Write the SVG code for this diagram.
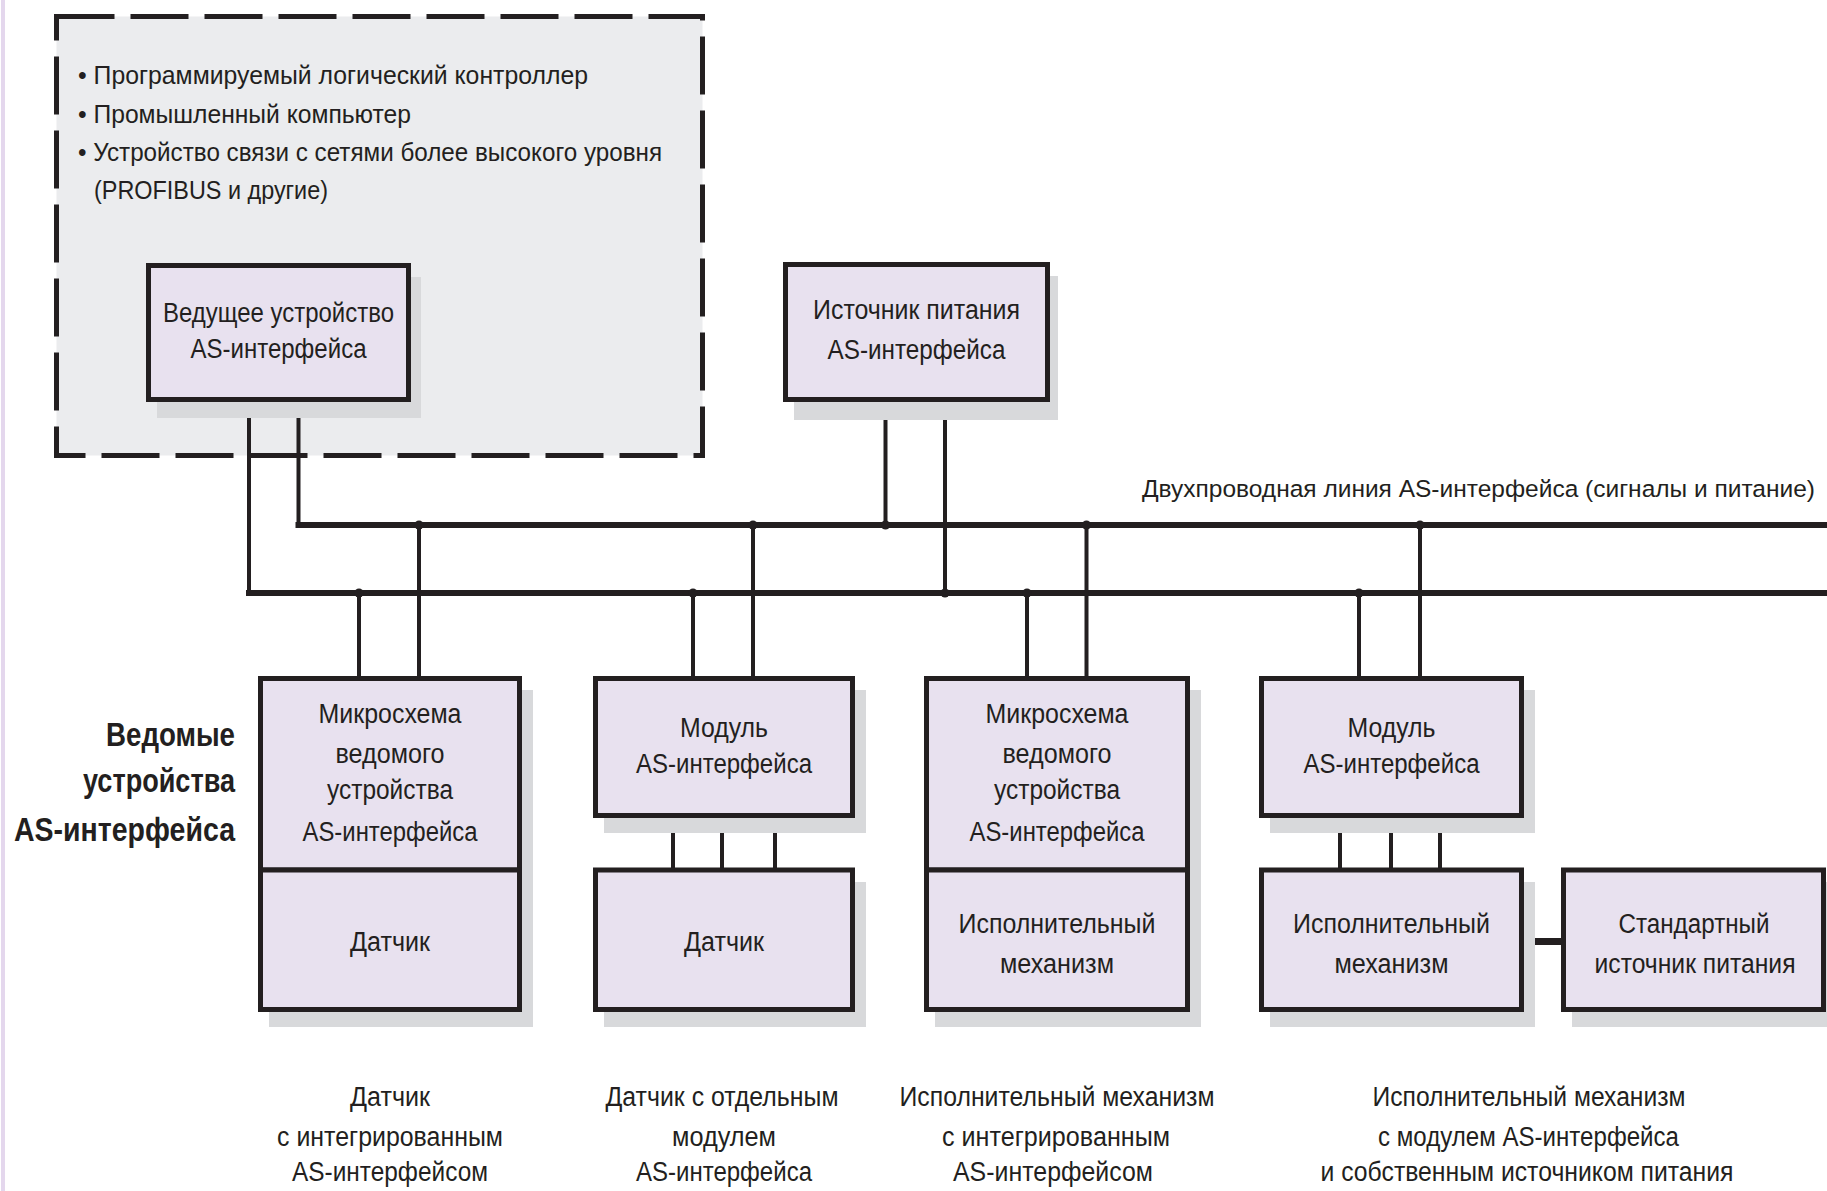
<svg xmlns="http://www.w3.org/2000/svg" width="1827" height="1191" viewBox="0 0 1827 1191">
<style>
text{font-family:"Liberation Sans","DejaVu Sans",sans-serif;fill:#231f20;font-size:27px;}
.c{text-anchor:middle;}
.s{font-size:26px;}
.lbl{font-size:24.5px;text-anchor:end;}
.b{font-weight:bold;font-size:33px;text-anchor:end;}
.box{fill:#e8e1ef;stroke:#231f20;stroke-width:5;}
.sh{fill:#d8d9db;}
.w{stroke:#231f20;stroke-width:4;fill:none;}
.bus{stroke:#231f20;stroke-width:6;fill:none;}
.dot{fill:#231f20;}
</style>
<rect x="0" y="0" width="1827" height="1191" fill="#ffffff"/>
<rect x="1" y="0" width="4" height="1191" fill="#e4d7ed"/>

<g id="host-area">
<rect x="56.5" y="16.5" width="646" height="439" fill="#ebecee" stroke="#231f20" stroke-width="5" stroke-dasharray="58 16"/>
<text class="s" x="78" y="84" textLength="510" lengthAdjust="spacingAndGlyphs">• Программируемый логический контроллер</text>
<text class="s" x="78" y="123" textLength="333" lengthAdjust="spacingAndGlyphs">• Промышленный компьютер</text>
<text class="s" x="78" y="161" textLength="584" lengthAdjust="spacingAndGlyphs">• Устройство связи с сетями более высокого уровня</text>
<text class="s" x="94" y="199" textLength="234" lengthAdjust="spacingAndGlyphs">(PROFIBUS и другие)</text>
</g>

<g id="connectors">
<line class="bus" x1="295.5" y1="525" x2="1827" y2="525"/>
<line class="bus" x1="246" y1="593" x2="1827" y2="593"/>
<polyline class="w" points="249,402 249,593"/>
<polyline class="w" points="298.5,402 298.5,525"/>
<line class="w" x1="885.5" y1="402" x2="885.5" y2="525"/>
<line class="w" x1="945" y1="402" x2="945" y2="593"/>
<line class="w" x1="359" y1="593" x2="359" y2="677"/>
<line class="w" x1="419" y1="525" x2="419" y2="677"/>
<line class="w" x1="693" y1="593" x2="693" y2="677"/>
<line class="w" x1="753" y1="525" x2="753" y2="677"/>
<line class="w" x1="1027" y1="593" x2="1027" y2="677"/>
<line class="w" x1="1086.5" y1="525" x2="1086.5" y2="677"/>
<line class="w" x1="1359" y1="593" x2="1359" y2="677"/>
<line class="w" x1="1420" y1="525" x2="1420" y2="677"/>
<line class="w" x1="673" y1="817" x2="673" y2="869"/>
<line class="w" x1="722" y1="817" x2="722" y2="869"/>
<line class="w" x1="775" y1="817" x2="775" y2="869"/>
<line class="w" x1="1340" y1="817" x2="1340" y2="869"/>
<line class="w" x1="1391" y1="817" x2="1391" y2="869"/>
<line class="w" x1="1440" y1="817" x2="1440" y2="869"/>
<line x1="1524" y1="941.5" x2="1562" y2="941.5" stroke="#231f20" stroke-width="7"/>
<circle class="dot" cx="359" cy="593" r="4.5"/>
<circle class="dot" cx="419" cy="525" r="4.5"/>
<circle class="dot" cx="693" cy="593" r="4.5"/>
<circle class="dot" cx="753" cy="525" r="4.5"/>
<circle class="dot" cx="885.5" cy="525" r="4.5"/>
<circle class="dot" cx="945" cy="593" r="4.5"/>
<circle class="dot" cx="1027" cy="593" r="4.5"/>
<circle class="dot" cx="1086.5" cy="525" r="4.5"/>
<circle class="dot" cx="1359" cy="593" r="4.5"/>
<circle class="dot" cx="1420" cy="525" r="4.5"/>
<text class="lbl" x="1815" y="497">Двухпроводная линия AS-интерфейса (сигналы и питание)</text>
</g>

<g id="master">
<rect class="sh" x="157" y="277" width="264" height="141"/>
<rect class="box" x="148.5" y="265.5" width="260" height="134"/>
<text class="c" x="278.5" y="322" textLength="231" lengthAdjust="spacingAndGlyphs">Ведущее устройство</text>
<text class="c" x="278.5" y="358" textLength="176" lengthAdjust="spacingAndGlyphs">AS-интерфейса</text>
</g>

<g id="power-supply">
<rect class="sh" x="794" y="276" width="264" height="144"/>
<rect class="box" x="785.5" y="264.5" width="262" height="135"/>
<text class="c" x="916.5" y="319" textLength="207" lengthAdjust="spacingAndGlyphs">Источник питания</text>
<text class="c" x="916.5" y="359" textLength="178" lengthAdjust="spacingAndGlyphs">AS-интерфейса</text>
</g>

<g id="slaves-label">
<text class="b" x="235" y="746" textLength="129" lengthAdjust="spacingAndGlyphs">Ведомые</text>
<text class="b" x="235" y="792" textLength="152" lengthAdjust="spacingAndGlyphs">устройства</text>
<text class="b" x="235" y="841" textLength="221" lengthAdjust="spacingAndGlyphs">AS-интерфейса</text>
</g>

<g id="slave1">
<rect class="sh" x="269" y="690" width="264" height="337"/>
<rect class="box" x="260.5" y="678.5" width="259" height="191.5"/>
<rect class="box" x="260.5" y="870" width="259" height="139.5"/>
<text class="c" x="390" y="723" textLength="143" lengthAdjust="spacingAndGlyphs">Микросхема</text>
<text class="c" x="390" y="763" textLength="109" lengthAdjust="spacingAndGlyphs">ведомого</text>
<text class="c" x="390" y="799" textLength="126" lengthAdjust="spacingAndGlyphs">устройства</text>
<text class="c" x="390" y="841" textLength="175" lengthAdjust="spacingAndGlyphs">AS-интерфейса</text>
<text class="c" x="390" y="951" textLength="80" lengthAdjust="spacingAndGlyphs">Датчик</text>
<text class="c" x="390" y="1106" textLength="80" lengthAdjust="spacingAndGlyphs">Датчик</text>
<text class="c" x="390" y="1146" textLength="226" lengthAdjust="spacingAndGlyphs">с интегрированным</text>
<text class="c" x="390" y="1181" textLength="196" lengthAdjust="spacingAndGlyphs">AS-интерфейсом</text>
</g>

<g id="slave2">
<rect class="sh" x="604" y="690" width="262" height="143"/>
<rect class="sh" x="604" y="882" width="262" height="145"/>
<rect class="box" x="595.5" y="678.5" width="257" height="137"/>
<rect class="box" x="595.5" y="870" width="257" height="139.5"/>
<text class="c" x="724" y="737" textLength="88" lengthAdjust="spacingAndGlyphs">Модуль</text>
<text class="c" x="724" y="773" textLength="176" lengthAdjust="spacingAndGlyphs">AS-интерфейса</text>
<text class="c" x="724" y="951" textLength="80" lengthAdjust="spacingAndGlyphs">Датчик</text>
<text class="c" x="722" y="1106" textLength="233" lengthAdjust="spacingAndGlyphs">Датчик с отдельным</text>
<text class="c" x="724" y="1146" textLength="104" lengthAdjust="spacingAndGlyphs">модулем</text>
<text class="c" x="724" y="1181" textLength="176" lengthAdjust="spacingAndGlyphs">AS-интерфейса</text>
</g>

<g id="slave3">
<rect class="sh" x="935" y="690" width="266" height="337"/>
<rect class="box" x="926.5" y="678.5" width="261" height="191.5"/>
<rect class="box" x="926.5" y="870" width="261" height="139.5"/>
<text class="c" x="1057" y="723" textLength="143" lengthAdjust="spacingAndGlyphs">Микросхема</text>
<text class="c" x="1057" y="763" textLength="109" lengthAdjust="spacingAndGlyphs">ведомого</text>
<text class="c" x="1057" y="799" textLength="126" lengthAdjust="spacingAndGlyphs">устройства</text>
<text class="c" x="1057" y="841" textLength="175" lengthAdjust="spacingAndGlyphs">AS-интерфейса</text>
<text class="c" x="1057" y="933" textLength="197" lengthAdjust="spacingAndGlyphs">Исполнительный</text>
<text class="c" x="1057" y="973" textLength="114" lengthAdjust="spacingAndGlyphs">механизм</text>
<text class="c" x="1057" y="1106" textLength="315" lengthAdjust="spacingAndGlyphs">Исполнительный механизм</text>
<text class="c" x="1056" y="1146" textLength="228" lengthAdjust="spacingAndGlyphs">с интегрированным</text>
<text class="c" x="1053" y="1181" textLength="200" lengthAdjust="spacingAndGlyphs">AS-интерфейсом</text>
</g>

<g id="slave4">
<rect class="sh" x="1270" y="690" width="265" height="143"/>
<rect class="sh" x="1270" y="882" width="265" height="145"/>
<rect class="box" x="1261.5" y="678.5" width="260" height="137"/>
<rect class="box" x="1261.5" y="870" width="260" height="139.5"/>
<text class="c" x="1391.5" y="737" textLength="88" lengthAdjust="spacingAndGlyphs">Модуль</text>
<text class="c" x="1391.5" y="773" textLength="176" lengthAdjust="spacingAndGlyphs">AS-интерфейса</text>
<text class="c" x="1391.5" y="933" textLength="197" lengthAdjust="spacingAndGlyphs">Исполнительный</text>
<text class="c" x="1391.5" y="973" textLength="114" lengthAdjust="spacingAndGlyphs">механизм</text>
<text class="c" x="1529" y="1106" textLength="313" lengthAdjust="spacingAndGlyphs">Исполнительный механизм</text>
<text class="c" x="1528.5" y="1146" textLength="301" lengthAdjust="spacingAndGlyphs">с модулем AS-интерфейса</text>
<text class="c" x="1527" y="1181" textLength="413" lengthAdjust="spacingAndGlyphs">и собственным источником питания</text>
</g>

<g id="standard-psu">
<rect class="sh" x="1572" y="882" width="265" height="145"/>
<rect class="box" x="1563.5" y="870" width="260" height="139.5"/>
<text class="c" x="1694" y="933" textLength="151" lengthAdjust="spacingAndGlyphs">Стандартный</text>
<text class="c" x="1695" y="973" textLength="201" lengthAdjust="spacingAndGlyphs">источник питания</text>
</g>
</svg>
